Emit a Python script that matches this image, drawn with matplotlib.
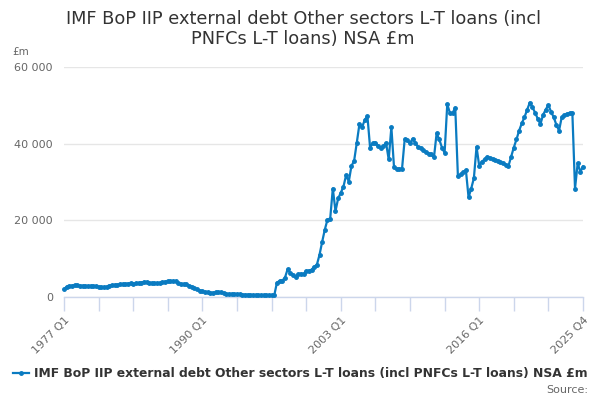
"""
IMF BoP IIP external debt, other sectors L-T loans, quarterly 1977 Q1 - 2025 Q4.
"""
import matplotlib
matplotlib.use("agg")
import matplotlib.pyplot as plt

FIRST_YEAR = 1977
LAST_YEAR = 2025

# quarterly values, £m (4 per year)
values = [
    2000, 2700, 2900, 2950,        # 1977
    3100, 3050, 2950, 2900,        # 1978
    2900, 2850, 2900, 2900,        # 1979
    2800, 2650, 2550, 2550,        # 1980
    2700, 3000, 3100, 3150,        # 1981
    3200, 3300, 3350, 3400,        # 1982
    3500, 3550, 3500, 3550,        # 1983
    3600, 3750, 3950, 3900,        # 1984
    3750, 3650, 3600, 3600,        # 1985
    3700, 3850, 4000, 4050,        # 1986
    4100, 4150, 4050, 3600,        # 1987
    3400, 3350, 3300, 3000,        # 1988
    2700, 2300, 2000, 1650,        # 1989
    1450, 1300, 1250, 1150,        # 1990
    1100, 1200, 1300, 1250,        # 1991
    1000, 800, 780, 800,           # 1992
    780, 750, 700, 650,            # 1993
    620, 600, 550, 520,            # 1994
    480, 460, 450, 440,            # 1995
    430, 440, 430, 450,            # 1996
    3740, 4200, 4300, 5000,        # 1997
    7200, 6300, 5800, 5300,        # 1998
    6000, 6100, 6000, 6800,        # 1999
    6900, 7100, 7900, 8400,        # 2000
    11000, 14400, 17600, 20200,    # 2001
    20300, 28300, 22400, 25700,    # 2002
    27200, 28800, 31800, 30100,    # 2003
    34200, 35500, 40200, 45100,    # 2004
    44300, 46200, 47200, 39000,    # 2005
    40100, 40300, 39400, 39000,    # 2006
    39400, 40200, 35900, 44300,    # 2007
    33800, 33300, 33500, 33400,    # 2008
    41100, 40900, 40200, 41300,    # 2009
    40200, 39200, 38900, 38300,    # 2010
    37700, 37400, 37300, 36400,    # 2011
    42700, 41100, 39000, 37600,    # 2012
    50300, 48000, 48000, 49400,    # 2013
    31500, 32000, 32600, 33100,    # 2014
    26000, 28300, 31000, 39200,    # 2015
    34200, 35300, 35900, 36600,    # 2016
    36300, 36000, 35800, 35500,    # 2017
    35200, 34900, 34500, 34200,    # 2018
    36600, 39000, 41100, 43400,    # 2019
    45300, 46900, 48800, 50700,    # 2020
    49500, 48100, 46500, 45100,    # 2021
    47500, 48900, 50100, 48300,    # 2022
    46900, 44900, 43400, 46900,    # 2023
    47400, 47800, 48000, 48100,    # 2024
    28300, 34900, 32700, 34000,    # 2025
]
quarters = ["%d Q%d" % (y, q) for y in range(FIRST_YEAR, LAST_YEAR + 1)
            for q in range(1, 5)]
labelled = ["1977 Q1", "1990 Q1", "2003 Q1", "2016 Q1", "2025 Q4"]
yticks = [0, 20000, 40000, 60000]

TITLE = ("IMF BoP IIP external debt Other sectors L-T loans (incl\n"
         "PNFCs L-T loans) NSA £m")
SERIES = "IMF BoP IIP external debt Other sectors L-T loans (incl PNFCs L-T loans) NSA £m"
BLUE = "#0a7bc1"
GREY = "#666666"
AXIS = "#ccd6eb"


def main():
    fig = plt.figure(figsize=(6, 4), dpi=100)
    ax = fig.add_axes([64 / 600, 103 / 400, 519 / 600, 230 / 400])

    x = list(range(len(values)))
    line, = ax.plot(x, values, color=BLUE, lw=1.6, marker="o", ms=2.5,
                    clip_on=False, zorder=3)

    ax.set_xlim(0, len(values) - 1)
    ax.set_ylim(0, 60000)

    # every 13th quarter gets a tick, every 4th tick a label (plus the last)
    tick_pos = list(range(0, len(values), 13))
    ax.set_xticks(tick_pos)
    ax.set_xticklabels([quarters[p] if quarters[p] in labelled else ""
                        for p in tick_pos],
                       rotation=45, ha="right", rotation_mode="anchor")
    ax.tick_params(axis="x", length=10, width=1, color=AXIS, colors=GREY,
                   labelsize=8, pad=3)
    ax.tick_params(axis="x", color=AXIS)

    ax.set_yticks(yticks)
    ax.set_yticklabels(["{:,}".format(v).replace(",", " ") for v in yticks])
    ax.tick_params(axis="y", length=0, colors=GREY, labelsize=8, pad=8)
    ax.grid(axis="y", color="#e6e6e6", lw=1)
    ax.set_axisbelow(True)

    for s in ["top", "right", "left"]:
        ax.spines[s].set_visible(False)
    ax.spines["bottom"].set_color(AXIS)
    ax.spines["bottom"].set_linewidth(1)

    fig.text(0.505, 0.975, TITLE, ha="center", va="top", fontsize=12.8,
             color="#333333", linespacing=1.15)
    fig.text(12 / 600, 1 - 52 / 400, "£m", ha="left", va="center",
             fontsize=7.5, color=GREY)

    fig.legend([line], [SERIES], loc="center", frameon=False,
               bbox_to_anchor=(0.5, 1 - 374 / 400), handlelength=1.3,
               handletextpad=0.4, prop={"weight": "bold", "size": 8.9},
               labelcolor="#333333")
    fig.text(588 / 600, 1 - 390 / 400, "Source:", ha="right", va="center",
             fontsize=8, color=GREY)

    fig.savefig("out.png", dpi=100)
    plt.close(fig)


if __name__ == '__main__':
    main()
